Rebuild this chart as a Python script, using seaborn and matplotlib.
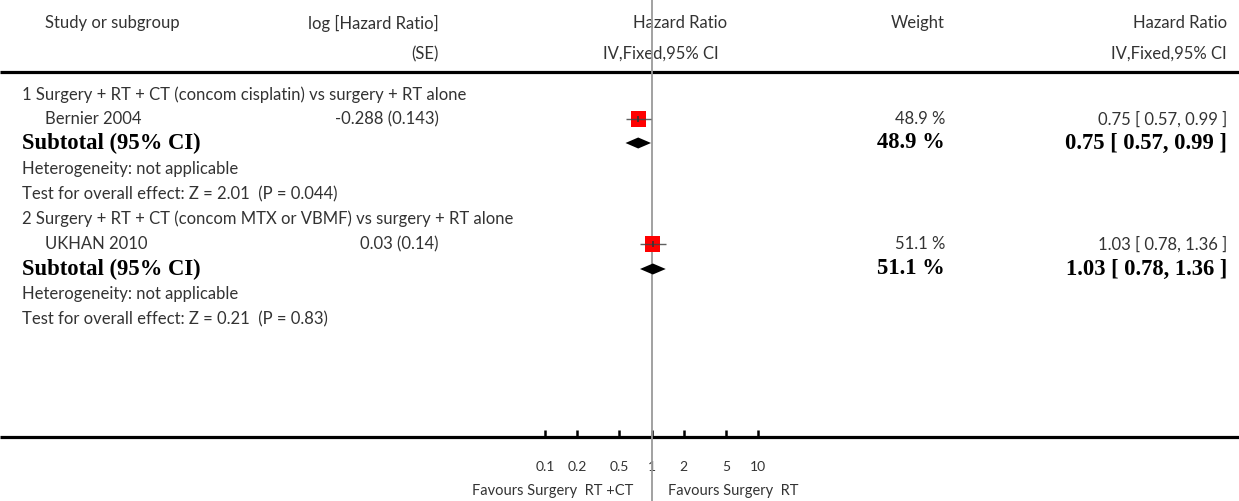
import numpy as np
import pandas as pd
import matplotlib
matplotlib.use("Agg")
import matplotlib.pyplot as plt
import seaborn as sns

sns.set_theme(style="white")
plt.rcParams["font.family"] = ["Lato", "DejaVu Sans"]

# ---- data -------------------------------------------------------------
studies = ["Bernier 2004", "UKHAN 2010"]
log_hr_se = ["-0.288 (0.143)", "0.03 (0.14)"]
hr = [0.75, 1.03]
ci_low = [0.57, 0.78]
ci_high = [0.99, 1.36]
weights = [48.9, 51.1]
subgroups = [
    "1 Surgery + RT + CT (concom cisplatin) vs surgery + RT alone",
    "2 Surgery + RT + CT (concom MTX or VBMF) vs surgery + RT alone",
]
overall_tests = [
    "Test for overall effect: Z = 2.01  (P = 0.044)",
    "Test for overall effect: Z = 0.21  (P = 0.83)",
]
tick_values = [0.1, 0.2, 0.5, 1, 2, 5, 10]
tick_labels = ["0.1", "0.2", "0.5", "1", "2", "5", "10"]
favours_left = "Favours Surgery  RT +CT"
favours_right = "Favours Surgery  RT"

# ---- layout -----------------------------------------------------------
W, H = 1239, 501
fig = plt.figure(figsize=(W / 100, H / 100), dpi=100)
base = fig.add_axes([0, 0, 1, 1])
base.set_xlim(0, W)
base.set_ylim(H, 0)
base.axis("off")

x_lo, x_hi = 545, 758
forest = fig.add_axes([x_lo / W, 0, (x_hi - x_lo) / W, 1])
forest.set_xscale("log")
forest.set_xlim(0.1, 10)
forest.set_ylim(H, 0)
forest.patch.set_alpha(0)
for s in forest.spines.values():
    s.set_visible(False)

txt = "#333333"
fs = 12
col_study, col_sub, col_se, col_w, col_hr = 45, 22, 439, 945, 1227

# headers
base.text(col_study, 23, "Study or subgroup", fontsize=fs, color=txt, va="center")
base.text(col_se, 23, "log [Hazard Ratio]", fontsize=fs, color=txt, va="center", ha="right")
base.text(col_se, 54, "(SE)", fontsize=fs, color=txt, va="center", ha="right")
base.text(680, 23, "Hazard Ratio", fontsize=fs, color=txt, va="center", ha="center")
base.text(661, 54, "IV,Fixed,95% CI", fontsize=fs, color=txt, va="center", ha="center")
base.text(col_w, 23, "Weight", fontsize=fs, color=txt, va="center", ha="right")
base.text(col_hr, 23, "Hazard Ratio", fontsize=fs, color=txt, va="center", ha="right")
base.text(col_hr, 54, "IV,Fixed,95% CI", fontsize=fs, color=txt, va="center", ha="right")

base.plot([0, W], [72, 72], color="black", lw=2.3, solid_capstyle="butt")
base.plot([0, W], [437, 437], color="black", lw=2.3, solid_capstyle="butt")

# rows per subgroup: heading, study, subtotal, heterogeneity, test
row_y = [[95, 119, 143, 169, 194], [219, 244, 269, 294, 319]]
bold_serif = dict(family=["Liberation Serif"], fontweight="bold", fontsize=16.3, color="black")

for i in range(2):
    yh, ys, yt, yhet, ytest = row_y[i]
    base.text(col_sub, yh, subgroups[i], fontsize=fs, color=txt, va="center")
    base.text(col_study, ys, studies[i], fontsize=fs, color=txt, va="center")
    base.text(col_se, ys, log_hr_se[i], fontsize=fs, color=txt, va="center", ha="right")
    base.text(col_w, ys, f"{weights[i]:.1f} %", fontsize=fs, color=txt, va="center", ha="right")
    base.text(col_hr, ys, f"{hr[i]:.2f} [ {ci_low[i]:.2f}, {ci_high[i]:.2f} ]",
              fontsize=fs, color=txt, va="center", ha="right")
    base.text(col_sub, yt, "Subtotal (95% CI)", va="center", **bold_serif)
    base.text(col_w, yt, f"{weights[i]:.1f} %", va="center", ha="right", **bold_serif)
    base.text(col_hr, yt, f"{hr[i]:.2f} [ {ci_low[i]:.2f}, {ci_high[i]:.2f} ]",
              va="center", ha="right", **bold_serif)
    base.text(col_sub, yhet, "Heterogeneity: not applicable", fontsize=fs, color=txt, va="center")
    base.text(col_sub, ytest, overall_tests[i], fontsize=fs, color=txt, va="center")

# null line
forest.axvline(1, color="#9a9a9a", lw=1.3, zorder=1)

# study markers: weighted square, CI line, centre tick
study_y = [r[1] for r in row_y]
df = pd.DataFrame({"hr": hr, "y": study_y, "w": weights})
sns.scatterplot(data=df, x="hr", y="y", marker="s", s=118, color="#ff0000",
                edgecolor="none", linewidth=0, ax=forest, zorder=2, legend=False)
forest.hlines(study_y, ci_low, ci_high, color="#444444", lw=1.0, alpha=0.85, zorder=3)
forest.vlines(hr, np.array(study_y) - 3, np.array(study_y) + 3, color="#333333", lw=1.2, zorder=4)

# subtotal diamonds
for i in range(2):
    yt = row_y[i][2]
    forest.fill([ci_low[i], hr[i], ci_high[i], hr[i]], [yt, yt - 5.5, yt, yt + 5.5],
                color="black", lw=0, zorder=3)

# axis ticks and labels
forest.set_xticks(tick_values)
forest.set_xticklabels(tick_labels)
forest.xaxis.set_minor_locator(matplotlib.ticker.NullLocator())
forest.spines["bottom"].set_position(("data", 437))
forest.tick_params(axis="x", direction="in", length=5, width=1.8, color="black",
                   labelsize=10, labelcolor=txt, pad=17, bottom=True)
forest.set_yticks([])
forest.set_xlabel("")
forest.set_ylabel("")

base.text(633, 491, favours_left, fontsize=10.5, color=txt, va="center", ha="right")
base.text(668, 491, favours_right, fontsize=10.5, color=txt, va="center", ha="left")

fig.savefig("out.png", dpi=100)
